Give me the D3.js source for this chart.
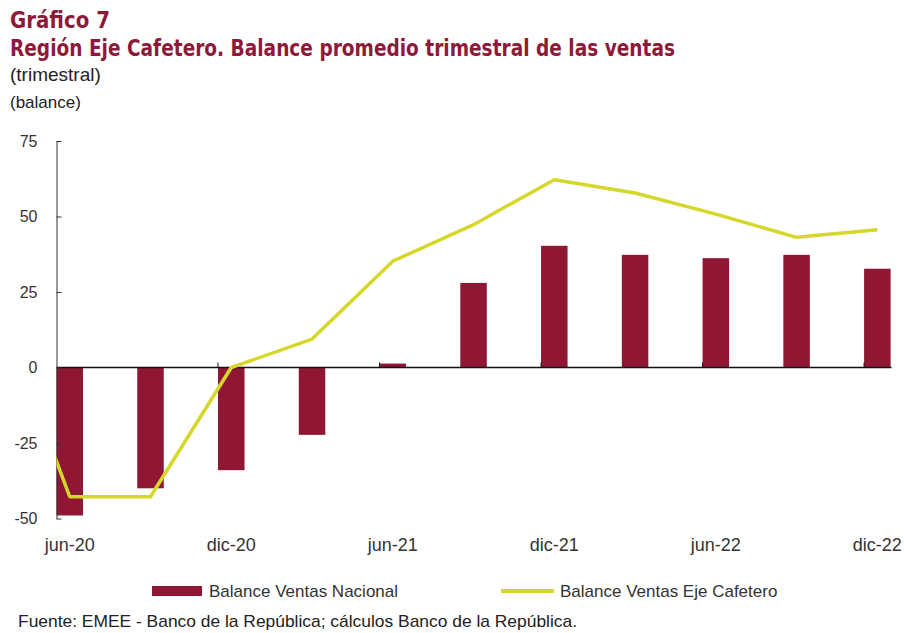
<!DOCTYPE html>
<html>
<head>
<meta charset="utf-8">
<script src="https://cdn.jsdelivr.net/npm/d3@7"></script>
<style>
  body { margin: 0; background: #fff; }
  svg { display: block; }
  text { font-family: "Liberation Sans", Arial, sans-serif; }
</style>
</head>
<body>
<svg width="904" height="633"></svg>
<script>
// quarters shown on the chart
var categories = ["jun-20", "sep-20", "dic-20", "mar-21", "jun-21", "sep-21", "dic-21", "mar-22", "jun-22", "sep-22", "dic-22"];
var nacional = [-49, -40, -34, -22.3, 1.3, 28, 40.3, 37.3, 36.2, 37.3, 32.7];
// the line comes in from the previous quarter, outside the plot
var lineCategories = ["mar-20"].concat(categories);
var ejeCafetero = [28.5, -42.8, -42.8, 0, 9.4, 35.2, 47.3, 62.2, 57.8, 50.8, 43.1, 45.6];
var xLabels = ["jun-20", "dic-20", "jun-21", "dic-21", "jun-22", "dic-22"];
var yTicks = [-50, -25, 0, 25, 50, 75];

var barColor = "#8f1733",
  lineColor = "#d5d82b",
  titleColor = "#8c1a38";

var svg = d3.select("svg");

var left = 56.5, right = 891.5, step = 80.76;

var x = d3.scaleBand()
  .domain(lineCategories)
  .range([left - step, left + categories.length * step])
  .paddingInner(0).paddingOuter(0);
var barW = 26.5;

var y = d3.scaleLinear().domain([-50, 75]).range([518.5, 141]);

// titles (condensed to the width of the original)
var condensed = '"Liberation Sans Narrow", "DejaVu Sans Condensed", sans-serif';
svg.append("text").attr("x", 10).attr("y", 28)
  .attr("fill", titleColor).attr("font-weight", "bold")
  .style("font-family", condensed)
  .attr("font-size", 23)
  .attr("textLength", 100).attr("lengthAdjust", "spacingAndGlyphs")
  .text("Gráfico 7");
svg.append("text").attr("x", 10).attr("y", 56)
  .attr("fill", titleColor).attr("font-weight", "bold")
  .style("font-family", condensed)
  .attr("font-size", 23)
  .attr("textLength", 665).attr("lengthAdjust", "spacingAndGlyphs")
  .text("Región Eje Cafetero. Balance promedio trimestral de las ventas");
svg.append("text").attr("x", 10).attr("y", 81)
  .attr("fill", "#222").attr("font-size", 19).text("(trimestral)");
svg.append("text").attr("x", 10).attr("y", 108)
  .attr("fill", "#222").attr("font-size", 17).text("(balance)");

// bars
svg.append("g").selectAll("rect")
  .data(nacional)
  .enter()
  .append("rect")
  .attr("x", function(d, i) { return x(categories[i]); })
  .attr("width", barW)
  .attr("y", function(d) { return y(Math.max(0, d)); })
  .attr("height", function(d) { return Math.abs(y(d) - y(0)); })
  .attr("fill", barColor);

// zero line and its small ticks
svg.append("line")
  .attr("x1", left).attr("x2", right)
  .attr("y1", y(0)).attr("y2", y(0))
  .attr("stroke", "#111").attr("stroke-width", 1.5);

svg.append("g").selectAll("line")
  .data(xLabels.slice(1))
  .enter()
  .append("line")
  .attr("x1", function(d) { return x(d); })
  .attr("x2", function(d) { return x(d); })
  .attr("y1", y(0)).attr("y2", y(0) - 5)
  .attr("stroke", "#111").attr("stroke-width", 1);

// y axis
var yAxis = svg.append("g")
  .attr("transform", "translate(" + left + ",0)")
  .call(d3.axisLeft(y).tickValues(yTicks).tickFormat(function(d) { return String(d); })
    .tickSizeInner(-5).tickSizeOuter(0).tickPadding(19));
yAxis.select(".domain").attr("stroke", "#333");
yAxis.selectAll(".tick line").attr("stroke", "#333");
yAxis.selectAll("text")
  .attr("font-size", 16).attr("fill", "#333")
  .style("font-family", '"Liberation Sans", Arial, sans-serif');

// line, clipped to the plot
svg.append("clipPath").attr("id", "plot")
  .append("rect").attr("x", left).attr("y", 0).attr("width", right - left + 10).attr("height", 633);

var line = d3.line()
  .x(function(d, i) { return x(lineCategories[i]) + barW / 2; })
  .y(function(d) { return y(d); });

svg.append("path")
  .datum(ejeCafetero)
  .attr("clip-path", "url(#plot)")
  .attr("fill", "none")
  .attr("stroke", lineColor)
  .attr("stroke-width", 3.5)
  .attr("stroke-linejoin", "round")
  .attr("d", line);

// x labels
svg.append("g").selectAll("text")
  .data(xLabels)
  .enter()
  .append("text")
  .attr("x", function(d) { return x(d) + barW / 2; })
  .attr("y", 551)
  .attr("text-anchor", "middle")
  .attr("font-size", 18)
  .attr("fill", "#333")
  .text(function(d) { return d; });

// legend
svg.append("rect").attr("x", 152).attr("y", 586).attr("width", 50).attr("height", 10).attr("fill", barColor);
svg.append("text").attr("x", 209).attr("y", 597).attr("font-size", 17).attr("fill", "#333").text("Balance Ventas Nacional");
svg.append("line").attr("x1", 501).attr("x2", 554).attr("y1", 591).attr("y2", 591)
  .attr("stroke", lineColor).attr("stroke-width", 4);
svg.append("text").attr("x", 560).attr("y", 597).attr("font-size", 17).attr("fill", "#333").text("Balance Ventas Eje Cafetero");

// source
svg.append("text").attr("x", 18).attr("y", 627).attr("font-size", 17).attr("fill", "#222")
  .attr("textLength", 559).attr("lengthAdjust", "spacingAndGlyphs")
  .text("Fuente: EMEE - Banco de la República; cálculos Banco de la República.");
</script>
</body>
</html>
